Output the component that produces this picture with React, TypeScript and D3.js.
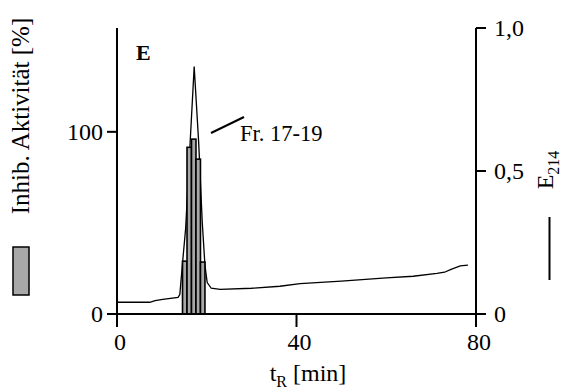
import React from "react";
import * as d3 from "d3";

const fractionTimes = [15.1, 16.1, 17.1, 18.1, 19.1];
const inhibition = [29, 91.5, 96, 85, 28.5];

const lineTimes = [0, 7.3, 8.5, 10.2, 13.6, 14.0, 14.5, 15.3, 16.3, 17.2, 18.2, 19.0, 19.6, 20.1, 21.0, 23, 30, 36.3, 40.8, 50, 60, 66, 71.3, 73, 74.3, 76.5, 78.2];
const absorbance = [0.041, 0.041, 0.047, 0.051, 0.058, 0.068, 0.16, 0.3, 0.6, 0.865, 0.6, 0.32, 0.17, 0.11, 0.09, 0.086, 0.09, 0.097, 0.106, 0.115, 0.126, 0.132, 0.142, 0.146, 0.155, 0.168, 0.171];

const xTicks = [0, 40, 80];
const leftTicks = [0, 100];
const rightTicks = [0, 0.5, 1.0];
const rightTickLabels = ["0", "0,5", "1,0"];

export default function App() {
  const W = 565, H = 392;
  const x0 = 117, x1 = 476, yTop = 28, yBot = 314;
  const x = d3.scaleLinear().domain([0, 80]).range([x0, x1]);
  const yL = d3.scaleLinear().domain([0, 157]).range([yBot, yTop]);
  const yR = d3.scaleLinear().domain([0, 1]).range([yBot, yTop]);
  const line = d3.line<number>().x((_, i) => x(lineTimes[i])).y((d) => yR(d));
  const font = "Liberation Serif, Times New Roman, Times, serif";
  const bw = x(1) - x(0);
  return (
    <div style={{ position: "absolute", left: 0, top: 0 }}>
      <svg width={W} height={H} style={{ display: "block", background: "#fff", fontFamily: font }}>
        <path d={line(absorbance) || ""} fill="none" stroke="#000" strokeWidth={1.3} />
        {inhibition.map((v, i) => (
          <rect key={i} x={x(fractionTimes[i]) - bw / 2} y={yL(v)} width={bw} height={yL(0) - yL(v)}
            fill="#a8a8a8" stroke="#000" strokeWidth={1.6} />
        ))}
        <line x1={x0} x2={x0} y1={yTop} y2={yBot + 13} stroke="#000" strokeWidth={2} />
        <line x1={x1} x2={x1} y1={yTop} y2={yBot + 13} stroke="#000" strokeWidth={2} />
        <line x1={x0 - 10} x2={x1 + 10} y1={yBot} y2={yBot} stroke="#000" strokeWidth={2} />
        {xTicks.map((t) => (
          <g key={"x" + t}>
            <line x1={x(t)} x2={x(t)} y1={yBot} y2={yBot + 13} stroke="#000" strokeWidth={2} />
            <text x={x(t) + 3} y={350} fontSize={24} textAnchor="middle">{t}</text>
          </g>
        ))}
        {leftTicks.map((t) => (
          <g key={"l" + t}>
            <line x1={x0 - 10} x2={x0} y1={yL(t)} y2={yL(t)} stroke="#000" strokeWidth={2} />
            <text x={x0 - 14} y={yL(t) + 8} fontSize={24} textAnchor="end">{t}</text>
          </g>
        ))}
        {rightTicks.map((t, i) => (
          <g key={"r" + t}>
            <line x1={x1} x2={x1 + 10} y1={yR(t)} y2={yR(t)} stroke="#000" strokeWidth={2} />
            <text x={x1 + 18} y={yR(t) + 8} fontSize={24} textAnchor="start">{rightTickLabels[i]}</text>
          </g>
        ))}
        <text x={136} y={60} fontSize={22} fontWeight="bold">E</text>
        <line x1={211} y1={133} x2={244} y2={117} stroke="#000" strokeWidth={2} />
        <text x={240} y={141} fontSize={22.5}>Fr. 17-19</text>
        <text x={308} y={381} fontSize={24} textAnchor="middle">
          t<tspan fontSize={16} dy={6}>R</tspan><tspan dy={-6}> [min]</tspan>
        </text>
        <text transform="translate(29,116) rotate(-90)" fontSize={25} textAnchor="middle">Inhib. Aktivität [%]</text>
        <rect x={13} y={247} width={16} height={48} fill="#a8a8a8" stroke="#000" strokeWidth={1.5} />
        <text transform="translate(553,170) rotate(-90)" fontSize={24} textAnchor="middle">
          E<tspan fontSize={16} dy={6}>214</tspan>
        </text>
        <line x1={549.5} x2={549.5} y1={217} y2={280} stroke="#000" strokeWidth={2} />
      </svg>
    </div>
  );
}
